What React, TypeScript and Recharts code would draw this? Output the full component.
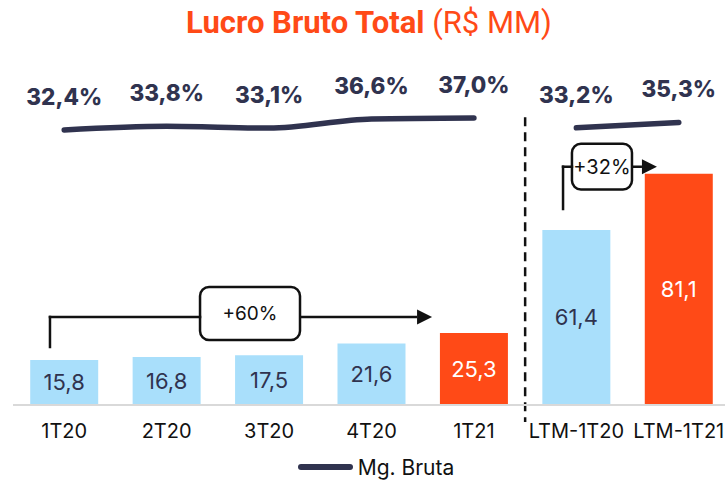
import React from 'react'
import {
  ComposedChart, Bar, Line, XAxis, YAxis, ReferenceLine, ReferenceArea,
  LabelList, Legend,
} from 'recharts'

const categorias = ['1T20', '2T20', '3T20', '4T20', '1T21', 'LTM-1T20', 'LTM-1T21']
const lucroBruto = [15.8, 16.8, 17.5, 21.6, 25.3, 61.4, 81.1]
const destaque = [false, false, false, false, true, false, true]
const mgBruta = [32.4, 33.8, 33.1, 36.6, 37.0, 33.2, 35.3]
const periodo = ['tri', 'tri', 'tri', 'tri', 'tri', 'ltm', 'ltm']
const crescimento = ['+60%', '+32%']

const NAVY = '#30334F'
const BLUE = '#A9DFFB'
const ORANGE = '#FF4A17'
const INK = '#111111'
const FONT = 'Inter, "Noto Sans", sans-serif'

const data = categorias.map((name, i) => ({
  name,
  pos: i,
  azul: destaque[i] ? null : lucroBruto[i],
  laranja: destaque[i] ? lucroBruto[i] : null,
  mgTri: periodo[i] === 'tri' ? mgBruta[i] : null,
  mgLtm: periodo[i] === 'ltm' ? mgBruta[i] : null,
}))

function fmt(v: number | null | undefined, suffix = ''): string {
  if (v == null) return ''
  return v.toFixed(1).replace('.', ',') + suffix
}

function Seta(props: any) {
  const { x1, y1, x2, y2 } = props
  const head = 15
  return (
    <g>
      <line x1={x1} y1={y1} x2={x2 - head} y2={y2} stroke={INK} strokeWidth={2.5} />
      <polygon points={`${x2},${y2} ${x2 - head},${y2 - 7.5} ${x2 - head},${y2 + 7.5}`} fill={INK} />
    </g>
  )
}

function Caixa(texto: string, size: number) {
  return (props: any) => {
    const { x, y, width, height } = props
    return (
      <g>
        <rect x={x} y={y} width={width} height={height} rx={9} ry={9}
          fill="#fff" stroke={INK} strokeWidth={2.5} />
        <text x={x + width / 2} y={y + height / 2} textAnchor="middle" dominantBaseline="central"
          fontFamily={FONT} fontSize={size} fill={INK}>{texto}</text>
      </g>
    )
  }
}

function Legenda() {
  return (
    <div style={{ display: 'flex', justifyContent: 'center', alignItems: 'center', height: 26, paddingLeft: 9, fontFamily: FONT }}>
      <span style={{ display: 'inline-block', width: 55, height: 6, borderRadius: 3, background: NAVY, marginRight: 5 }} />
      <span style={{ fontSize: 21, color: '#111' }}>Mg. Bruta</span>
    </div>
  )
}

const lineProps = (
  { stroke: INK, strokeWidth: 2.5, strokeLinecap: 'square' as const }
)

export default function App() {
  return (
    <div style={{ position: 'fixed', left: 0, top: 0, width: 725, height: 480, overflow: 'hidden', background: '#fff' }}>
      <div style={{ position: 'absolute', top: 4, left: 0, width: 738, textAlign: 'center', fontFamily: 'Roboto, sans-serif', fontSize: 31, color: ORANGE, zIndex: 2 }}>
        <span style={{ fontWeight: 700 }}>Lucro Bruto Total</span> (R$ MM)
      </div>
      <ComposedChart width={730} height={480} data={data}
        margin={{ top: 63, right: 0, left: 13, bottom: 9 }} barCategoryGap="16.8%">
        <XAxis dataKey="name" height={40} tickSize={0} tickMargin={19}
          axisLine={{ stroke: '#D9D9D9', strokeWidth: 2 }}
          tick={{ fontSize: 20, fill: '#111', fontFamily: FONT }} interval={0} />
        <XAxis xAxisId="n" dataKey="pos" type="number" domain={[-0.5, 6.5]} allowDataOverflow hide />
        <YAxis yAxisId="v" domain={[0, 120]} allowDataOverflow hide />
        <YAxis yAxisId="mg" domain={[-73.4, 58.15]} allowDataOverflow hide />

        <Bar yAxisId="v" dataKey="azul" stackId="a" fill={BLUE} isAnimationActive={false}>
          <LabelList dataKey="azul" position="center" formatter={(v: any) => fmt(v)}
            style={{ fontSize: 22, fill: NAVY, fontFamily: FONT }} />
        </Bar>
        <Bar yAxisId="v" dataKey="laranja" stackId="a" fill={ORANGE} isAnimationActive={false}>
          <LabelList dataKey="laranja" position="center" formatter={(v: any) => fmt(v)}
            style={{ fontSize: 22, fill: '#fff', fontFamily: FONT }} />
        </Bar>

        <Line yAxisId="mg" dataKey="mgTri" type="monotone" stroke={NAVY} strokeWidth={5.5}
          strokeLinecap="round" dot={false} activeDot={false} isAnimationActive={false}>
          <LabelList dataKey="mgTri" position="top" offset={25} formatter={(v: any) => fmt(v, '%')}
            style={{ fontSize: 22.5, fontWeight: 800, fill: NAVY, fontFamily: FONT }} />
        </Line>
        <Line yAxisId="mg" dataKey="mgLtm" type="monotone" stroke={NAVY} strokeWidth={5.5}
          strokeLinecap="round" dot={false} activeDot={false} isAnimationActive={false}>
          <LabelList dataKey="mgLtm" position="top" offset={25} formatter={(v: any) => fmt(v, '%')}
            style={{ fontSize: 22.5, fontWeight: 800, fill: NAVY, fontFamily: FONT }} />
        </Line>

        {/* divisória trimestres | LTM */}
        <ReferenceLine xAxisId="n" yAxisId="v" ifOverflow="visible"
          segment={[{ x: 4.5, y: 101 }, { x: 4.5, y: -6 }]}
          stroke={INK} strokeWidth={2.5} strokeDasharray="9 6" />

        {/* +60% */}
        <ReferenceLine xAxisId="n" yAxisId="v" ifOverflow="visible"
          segment={[{ x: -0.139, y: 20.35 }, { x: -0.139, y: 30.88 }]} {...lineProps} />
        <ReferenceLine xAxisId="n" yAxisId="v" ifOverflow="visible"
          segment={[{ x: -0.139, y: 30.88 }, { x: 1.326, y: 30.88 }]} {...lineProps} />
        <ReferenceLine xAxisId="n" yAxisId="v" ifOverflow="visible"
          segment={[{ x: 2.302, y: 30.88 }, { x: 3.591, y: 30.88 }]} shape={Seta} />
        <ReferenceArea xAxisId="n" yAxisId="v" ifOverflow="visible"
          x1={1.326} x2={2.302} y1={22.81} y2={41.4} shape={Caixa(crescimento[0], 19)} />

        {/* +32% */}
        <ReferenceLine xAxisId="n" yAxisId="v" ifOverflow="visible"
          segment={[{ x: 4.87, y: 68.77 }, { x: 4.87, y: 83.6 }]} {...lineProps} />
        <ReferenceLine xAxisId="n" yAxisId="v" ifOverflow="visible"
          segment={[{ x: 4.87, y: 83.6 }, { x: 4.957, y: 83.6 }]} {...lineProps} />
        <ReferenceLine xAxisId="n" yAxisId="v" ifOverflow="visible"
          segment={[{ x: 5.543, y: 83.6 }, { x: 5.787, y: 83.6 }]} shape={Seta} />
        <ReferenceArea xAxisId="n" yAxisId="v" ifOverflow="visible"
          x1={4.957} x2={5.543} y1={75.6} y2={91.7} shape={Caixa(crescimento[1], 20)} />

        <Legend verticalAlign="bottom" height={26} wrapperStyle={{ bottom: 0 }} content={() => <Legenda />} />
      </ComposedChart>
    </div>
  )
}
